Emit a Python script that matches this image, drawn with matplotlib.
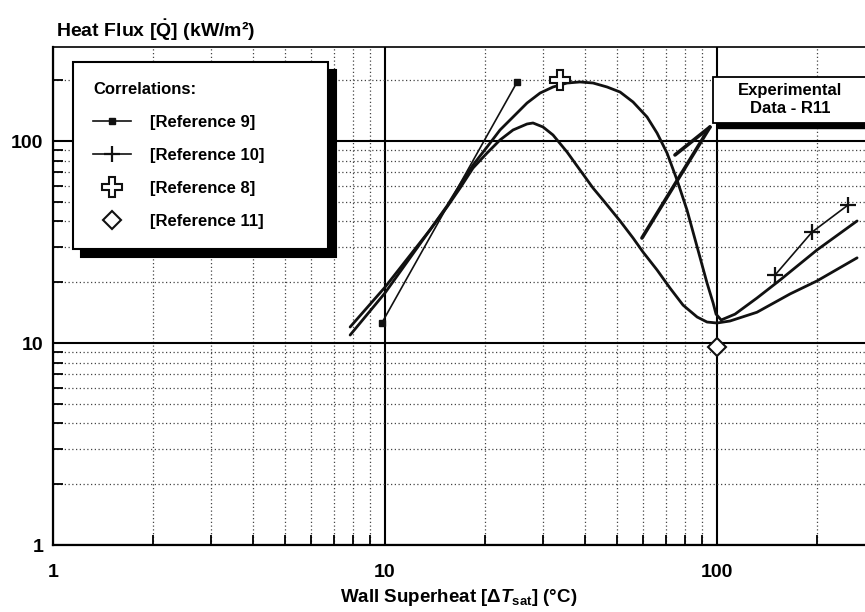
import matplotlib
matplotlib.use("Agg")
import matplotlib.pyplot as plt
import matplotlib.ticker as ticker
import numpy as np
from matplotlib.patches import Rectangle

# ── Fonts ─────────────────────────────────────────────────────────────────────
plt.rcParams["font.family"] = ["Liberation Sans", "DejaVu Sans"]
plt.rcParams["font.weight"] = "bold"
plt.rcParams["mathtext.fontset"] = "custom"
plt.rcParams["mathtext.rm"] = "Liberation Sans:bold"
plt.rcParams["mathtext.it"] = "Liberation Sans:italic:bold"
plt.rcParams["mathtext.bf"] = "Liberation Sans:bold"

# ── Data ──────────────────────────────────────────────────────────────────────
# correlation curve with the high peak
curve_a_x = [7.85, 10.0, 13.66, 15.37, 16.83, 18.41, 20.29, 22.20, 24.30, 26.77,
             29.31, 32.06, 35.34, 38.67, 42.31, 46.64, 51.04, 55.85, 61.54,
             65.96, 70.69, 75.77, 81.2, 87.1, 93.3, 97.3, 99.3, 102.9, 113.3,
             131.9, 154.8, 200.1, 264.1]
curve_a_y = [10.95, 17.7, 36.3, 47.7, 60.6, 76.1, 93.4, 113.4, 131.5, 154.2,
             172.8, 185.1, 193.7, 196.0, 193.7, 185.1, 174.8, 156.0, 131.5,
             109.5, 87.2, 64.1, 45.5, 29.9, 19.8, 15.8, 13.9, 13.0, 13.9,
             16.7, 20.5, 28.9, 40.2]

# correlation curve with the lower peak
curve_b_x = [7.85, 10.0, 13.66, 15.37, 16.83, 18.41, 20.29, 22.20, 24.30, 26.77,
             27.91, 29.92, 32.06, 35.34, 38.67, 42.31, 45.36, 51.04, 55.85,
             59.85, 65.96, 72.17, 79.0, 87.1, 93.3, 100.0, 109.4, 131.9, 166.0,
             200.1, 264.1]
curve_b_y = [12.0, 18.9, 36.3, 47.1, 58.5, 73.5, 87.2, 101.2, 113.4, 121.4,
             122.8, 117.3, 107.1, 88.2, 71.8, 58.5, 51.0, 40.2, 33.1,
             28.2, 23.0, 18.7, 15.4, 13.45, 12.7, 12.56, 12.85, 14.2, 17.5,
             20.3, 26.4]

ref9_x = [9.79, 25.0]
ref9_y = [12.6, 196.0]

ref10_x = [149.5, 193.2, 248.0]
ref10_y = [21.7, 35.4, 48.2]

ref8_x = [33.7]
ref8_y = [200.0]

ref11_x = [100.0]
ref11_y = [9.6]

# experimental data (R11) segments, both ending at the callout corner
exp1_x = [59.4, 95.2]
exp1_y = [33.1, 117.3]
exp2_x = [74.7, 95.2]
exp2_y = [85.3, 117.3]

x_ticks = [1, 10, 100]
x_tick_labels = ["1", "10", "100"]
y_ticks = [1, 10, 100]
y_tick_labels = ["1", "10", "100"]

# ── Figure ────────────────────────────────────────────────────────────────────
fig = plt.figure(figsize=(8.65, 6.12), dpi=100)
ax = fig.add_axes([53 / 865, 67 / 612, 812 / 865, 498 / 612])
ax.set_xscale("log")
ax.set_yscale("log")
ax.set_xlim(1, 279)
ax.set_ylim(1, 292)

# curves
line_kw = dict(color="#111111", lw=2.0, zorder=3,
               solid_capstyle="round", solid_joinstyle="round")
ax.plot(curve_a_x, curve_a_y, **line_kw)
ax.plot(curve_b_x, curve_b_y, **line_kw)
ax.plot(exp1_x, exp1_y, color="#111111", lw=2.6, zorder=3, solid_capstyle="round")
ax.plot(exp2_x, exp2_y, color="#111111", lw=2.6, zorder=3, solid_capstyle="round")

ax.plot(ref9_x, ref9_y, color="#111111", lw=1.2, marker="s", ms=4,
        label="[Reference 9]", zorder=4)
ax.plot(ref10_x, ref10_y, color="#111111", lw=1.2, marker="+", ms=12, mew=1.6,
        label="[Reference 10]", zorder=4)
ax.plot(ref8_x, ref8_y, ls="none", marker="P", ms=15, mfc="white", mec="#111111",
        mew=1.5, label="[Reference 8]", zorder=4)
ax.plot(ref11_x, ref11_y, ls="none", marker="D", ms=9, mfc="white", mec="#111111",
        mew=1.5, label="[Reference 11]", zorder=4)

# ── Axes styling ──────────────────────────────────────────────────────────────
ax.xaxis.set_major_locator(ticker.FixedLocator(x_ticks))
ax.xaxis.set_major_formatter(ticker.FixedFormatter(x_tick_labels))
ax.yaxis.set_major_locator(ticker.FixedLocator(y_ticks))
ax.yaxis.set_major_formatter(ticker.FixedFormatter(y_tick_labels))
for axis in (ax.xaxis, ax.yaxis):
    axis.set_minor_locator(ticker.LogLocator(base=10, subs=np.arange(2, 10), numticks=20))
    axis.set_minor_formatter(ticker.NullFormatter())

ax.grid(which="major", color="black", lw=1.5, ls="-", zorder=1)
ax.grid(which="minor", color="#444444", lw=0.9, ls=(0, (1, 2)), zorder=1)
ax.set_axisbelow(True)

ax.tick_params(which="major", length=0, labelsize=14)
ax.tick_params(axis="x", which="major", pad=14)
ax.tick_params(axis="y", which="major", pad=7)
ax.tick_params(which="minor", direction="in", length=7, width=1.3)
for lab in ax.get_xticklabels() + ax.get_yticklabels():
    lab.set_fontweight("bold")

ax.spines["right"].set_visible(False)
ax.spines["top"].set_linewidth(1.2)
ax.spines["left"].set_linewidth(1.6)
ax.spines["bottom"].set_linewidth(1.6)

ax.set_xlabel(r"Wall Superheat [$\mathit{\Delta T}_{\mathrm{sat}}$] (°C)",
              fontsize=13.5, fontweight="bold", labelpad=4)
ax.text(0.004, 1.034, r"Heat Flux [$\dot{\mathrm{Q}}$] (kW/m²)",
        transform=ax.transAxes, ha="left", va="center",
        fontsize=14, fontweight="bold")

# ── Legend ────────────────────────────────────────────────────────────────────
leg = ax.legend(
    loc="upper left", bbox_to_anchor=(0.0246, 0.5965, 0.314, 0.3735),
    mode="expand", borderaxespad=0, title="Correlations:", alignment="left",
    fancybox=False, framealpha=1, edgecolor="black",
    prop={"size": 12, "weight": "bold"},
    title_fontproperties={"size": 12, "weight": "bold"},
    borderpad=1.2, labelspacing=1.08, handlelength=2.3, handletextpad=1.1,
    shadow={"ox": 6, "oy": -6, "shade": 1.0, "alpha": 1},
)
leg.get_frame().set_linewidth(1.5)
leg.set_zorder(10)

# ── Callout box ───────────────────────────────────────────────────────────────
box_x, box_y, box_w, box_h = 0.8128, 0.8474, 0.30, 0.0924
ax.add_patch(Rectangle((box_x + 0.0065, box_y - 0.011), box_w, box_h,
                       transform=ax.transAxes, fc="black", ec="black",
                       clip_on=False, zorder=8))
ax.add_patch(Rectangle((box_x, box_y), box_w, box_h, transform=ax.transAxes,
                       fc="white", ec="black", lw=1.3, clip_on=False, zorder=9))
ax.text(0.9076, 0.894, "Experimental\nData - R11", transform=ax.transAxes,
        ha="center", va="center", fontsize=12, fontweight="bold",
        linespacing=1.25, zorder=11)

fig.savefig("out.png", dpi=100)
